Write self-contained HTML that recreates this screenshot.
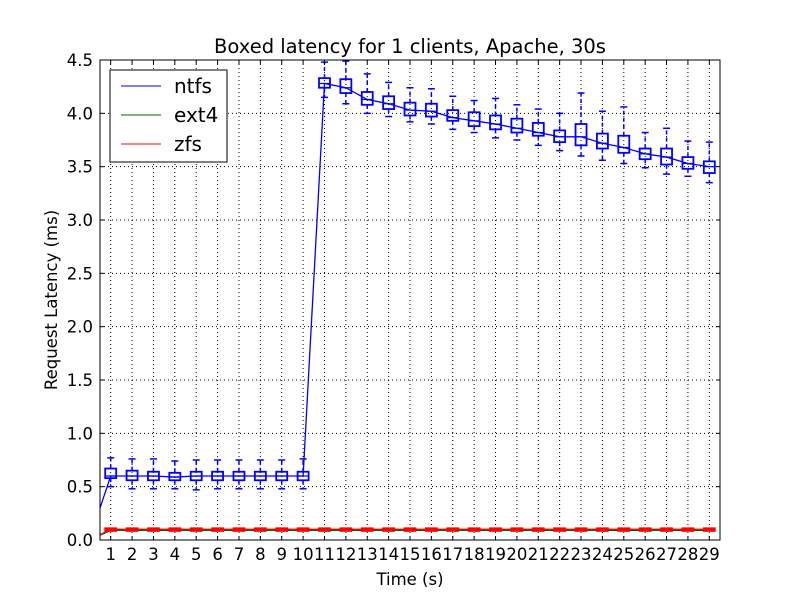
<!DOCTYPE html>
<html><head><meta charset="utf-8"><style>
body{margin:0;background:#fff}
svg text{font-family:"DejaVu Sans","Liberation Sans",sans-serif}
</style></head><body>
<svg id="c" width="800" height="600" viewBox="0 0 800 600" xmlns="http://www.w3.org/2000/svg">
<rect width="800" height="600" fill="#fff"/>
<defs><clipPath id="pc"><rect x="100" y="60" width="620" height="480"/></clipPath></defs>
<g id="grid"></g>
<g id="marks" clip-path="url(#pc)"></g>
<rect x="100" y="60" width="620" height="480" fill="none" stroke="#000" stroke-width="1"/>
<g id="ticks"></g>
<text x="410" y="53" text-anchor="middle" font-size="19.5">Boxed latency for 1 clients, Apache, 30s</text>
<text x="410" y="585" text-anchor="middle" font-size="16.5">Time (s)</text>
<text transform="translate(57,300) rotate(-90)" text-anchor="middle" font-size="16.5">Request Latency (ms)</text>
<g>
<rect x="110" y="70" width="117" height="92" fill="#fff" stroke="#000"/>
<g><line x1="121" y1="86" x2="161" y2="86" stroke="#0000ff"/><text x="174" y="93" font-size="20">ntfs</text></g>
<g><line x1="121" y1="115" x2="161" y2="115" stroke="#006400"/><text x="174" y="122" font-size="20">ext4</text></g>
<g><line x1="121" y1="144" x2="161" y2="144" stroke="#ff0000"/><text x="174" y="151" font-size="20">zfs</text></g>
</g>
</svg>
<script>
const categories=[1,2,3,4,5,6,7,8,9,10,11,12,13,14,15,16,17,18,19,20,21,22,23,24,25,26,27,28,29];
const ntfsMean=[0.6,0.6,0.6,0.59,0.6,0.6,0.6,0.6,0.6,0.6,4.28,4.24,4.13,4.09,4.03,4.02,3.96,3.93,3.90,3.86,3.82,3.78,3.78,3.72,3.68,3.62,3.59,3.53,3.50];
const ntfsQ1=[0.58,0.56,0.56,0.56,0.56,0.56,0.56,0.56,0.56,0.56,4.24,4.19,4.08,4.04,3.98,3.97,3.93,3.88,3.85,3.82,3.79,3.73,3.70,3.67,3.63,3.57,3.52,3.48,3.44];
const ntfsQ3=[0.67,0.65,0.64,0.63,0.64,0.64,0.64,0.64,0.64,0.64,4.33,4.32,4.20,4.16,4.10,4.09,4.03,4.01,3.98,3.95,3.91,3.84,3.90,3.81,3.79,3.67,3.67,3.59,3.55];
const ntfsLo=[0.50,0.48,0.48,0.48,0.47,0.48,0.48,0.48,0.48,0.48,4.15,4.09,4.00,3.97,3.92,3.90,3.85,3.82,3.77,3.75,3.70,3.65,3.60,3.56,3.53,3.49,3.43,3.41,3.35];
const ntfsHi=[0.77,0.76,0.76,0.74,0.75,0.75,0.75,0.75,0.75,0.76,4.48,4.49,4.37,4.29,4.24,4.23,4.16,4.12,4.14,4.08,4.04,4.00,4.19,4.02,4.06,3.82,3.86,3.74,3.73];
const ext4Mean=[0.09,0.09,0.09,0.09,0.09,0.09,0.09,0.09,0.09,0.09,0.09,0.09,0.09,0.09,0.09,0.09,0.09,0.09,0.09,0.09,0.09,0.09,0.09,0.09,0.09,0.09,0.09,0.09,0.09];
const zfsMean=[0.1,0.1,0.1,0.1,0.1,0.1,0.1,0.1,0.1,0.1,0.1,0.1,0.1,0.1,0.1,0.1,0.1,0.1,0.1,0.1,0.1,0.1,0.1,0.1,0.1,0.1,0.1,0.1,0.1];
const zfsQ1=[0.085,0.085,0.085,0.085,0.085,0.085,0.085,0.085,0.085,0.085,0.085,0.085,0.085,0.085,0.085,0.085,0.085,0.085,0.085,0.085,0.085,0.085,0.085,0.085,0.085,0.085,0.085,0.085,0.085];
const zfsQ3=[0.11,0.11,0.11,0.11,0.11,0.11,0.11,0.11,0.11,0.11,0.11,0.11,0.11,0.11,0.11,0.11,0.11,0.11,0.11,0.11,0.11,0.11,0.11,0.11,0.11,0.11,0.11,0.11,0.11];
const yTicks=[0,0.5,1,1.5,2,2.5,3,3.5,4,4.5];
const yTickLabels=["0.0","0.5","1.0","1.5","2.0","2.5","3.0","3.5","4.0","4.5"];
const NS="http://www.w3.org/2000/svg";
const X=v=>100+(v-0.5)*620/29;
const Y=v=>540-v*480/4.5;
function mk(p,t,a){const e=document.createElementNS(NS,t);for(const k in a)e.setAttribute(k,a[k]);p.appendChild(e);return e;}
const grid=document.getElementById('grid'),marks=document.getElementById('marks'),ticks=document.getElementById('ticks');
yTicks.forEach((v,i)=>{
  if(v>0&&v<4.5){const g=mk(grid,'line',{x1:100,x2:720,y1:Y(v),y2:Y(v),stroke:'#000','stroke-dasharray':'1,3','stroke-width':1});
  
  }
  mk(ticks,'line',{x1:100,x2:104,y1:Y(v),y2:Y(v),stroke:'#000'});
  mk(ticks,'line',{x1:716,x2:720,y1:Y(v),y2:Y(v),stroke:'#000'});
  const t=mk(ticks,'text',{x:93,y:Y(v)+6,'text-anchor':'end','font-size':16.5});t.textContent=yTickLabels[i];
  
  
});
categories.forEach(c=>{
  const g=mk(grid,'line',{x1:X(c),x2:X(c),y1:60,y2:540,stroke:'#000','stroke-dasharray':'1,3','stroke-width':1});
  
  
  mk(ticks,'line',{x1:X(c),x2:X(c),y1:536,y2:540,stroke:'#000'});
  mk(ticks,'line',{x1:X(c),x2:X(c),y1:60,y2:64,stroke:'#000'});
  const t=mk(ticks,'text',{x:X(c),y:560,'text-anchor':'middle','font-size':16.5});t.textContent=c;
  
  
});
function boxes(q1,q3,lo,hi,med,col,name,fill){
  categories.forEach((c,i)=>{
    const g=mk(marks,'g',{});
    
    
    const x=X(c),w=5.5;
    if(lo){mk(g,'line',{x1:x,x2:x,y1:Y(q1[i]),y2:Y(lo[i]),stroke:col,'stroke-dasharray':'4,3','stroke-width':1.5});
    mk(g,'line',{x1:x,x2:x,y1:Y(q3[i]),y2:Y(hi[i]),stroke:col,'stroke-dasharray':'4,3','stroke-width':1.5});
    mk(g,'line',{x1:x-3.5,x2:x+3.5,y1:Y(lo[i]),y2:Y(lo[i]),stroke:col,'stroke-width':1.5});
    mk(g,'line',{x1:x-3.5,x2:x+3.5,y1:Y(hi[i]),y2:Y(hi[i]),stroke:col,'stroke-width':1.5});}
    mk(g,'rect',{x:x-w,y:Y(q3[i]),width:2*w,height:Y(q1[i])-Y(q3[i]),fill:fill,stroke:col,'stroke-width':1.8});
    mk(g,'line',{x1:x-w,x2:x+w,y1:Y(med[i]),y2:Y(med[i]),stroke:col,'stroke-width':1.2});
  });
}
function line(vals,col,name){
  const pts=[[X(0),Y(0)]].concat(categories.map((c,i)=>[X(c),Y(vals[i])]));
  const p=mk(marks,'polyline',{points:pts.map(p=>p.join(',')).join(' '),fill:'none',stroke:col,'stroke-width':1.3});
  
  
}
boxes(ntfsQ1,ntfsQ3,ntfsLo,ntfsHi,ntfsMean,'#0000ff','ntfs','none');
line(ntfsMean,'#0000ff','ntfs');
line(ext4Mean,'#006400','ext4');
boxes(zfsQ1,zfsQ3,null,null,zfsMean,'#ff0000','zfs','#ff0000');
line(zfsMean,'#ff0000','zfs');
</script>
</body></html>
